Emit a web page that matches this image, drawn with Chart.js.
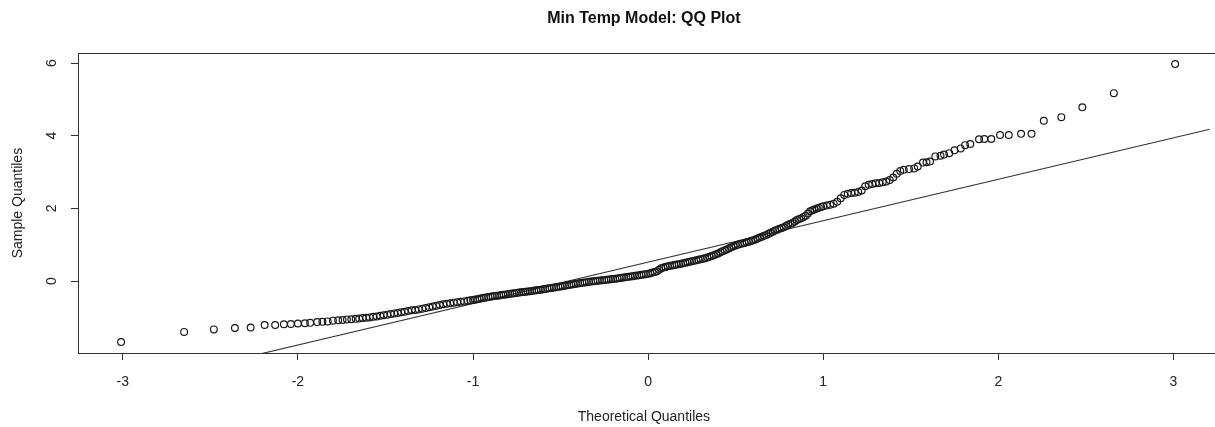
<!DOCTYPE html>
<html>
<head>
<meta charset="utf-8">
<script src="https://cdn.jsdelivr.net/npm/chart.js@4"></script>
<style>
  body { margin: 0; background: #fff; }
  #wrap { width: 1215px; height: 427px; }
</style>
</head>
<body>
<div id="wrap"><canvas id="qqChart"></canvas></div>
<script>
// theoretical quantiles (x) and sample quantiles (y)
const theoretical = [
  // lower tail
  -3.01, -2.65, -2.48, -2.36, -2.27, -2.19, -2.13, -2.08, -2.04, -2.00,
  -1.96, -1.93, -1.89, -1.86, -1.83, -1.80, -1.77, -1.745, -1.72, -1.695,
  -1.67,
  -1.65, -1.63, -1.61, -1.59, -1.57, -1.55, -1.53, -1.51, -1.49, -1.47,
  -1.45, -1.43, -1.41, -1.39, -1.37, -1.35, -1.33, -1.31, -1.29, -1.27,
  -1.25, -1.23, -1.21, -1.19, -1.17, -1.15, -1.13, -1.11, -1.09, -1.07,
  -1.05, -1.03, -1.015,
  // centre
  -1.000, -0.988, -0.975, -0.963, -0.950, -0.938, -0.925, -0.913,
  -0.900, -0.888, -0.875, -0.863, -0.850, -0.838, -0.825, -0.813,
  -0.800, -0.788, -0.775, -0.763, -0.750, -0.738, -0.725, -0.713,
  -0.700, -0.688, -0.675, -0.663, -0.650, -0.638, -0.625, -0.613,
  -0.600, -0.588, -0.575, -0.563, -0.550, -0.538, -0.525, -0.513,
  -0.500, -0.488, -0.475, -0.463, -0.450, -0.438, -0.425, -0.413,
  -0.400, -0.388, -0.375, -0.363, -0.350, -0.338, -0.325, -0.313,
  -0.300, -0.288, -0.275, -0.263, -0.250, -0.238, -0.225, -0.213,
  -0.200, -0.188, -0.175, -0.163, -0.150, -0.138, -0.125, -0.113,
  -0.100, -0.088, -0.075, -0.063, -0.050, -0.038, -0.025, -0.013,
  0.000, 0.013, 0.025, 0.038, 0.050, 0.063, 0.075, 0.088,
  0.100, 0.113, 0.125, 0.138, 0.150, 0.163, 0.175, 0.188,
  0.200, 0.213, 0.225, 0.238, 0.250, 0.263, 0.275, 0.288,
  0.300, 0.313, 0.325, 0.338, 0.350, 0.363, 0.375, 0.388,
  0.400, 0.413, 0.425, 0.438, 0.450, 0.463, 0.475, 0.488,
  0.500, 0.513, 0.525, 0.538, 0.550, 0.563, 0.575, 0.588,
  0.600, 0.613, 0.625, 0.638, 0.650, 0.663, 0.675, 0.688,
  0.700, 0.713, 0.725, 0.738, 0.750, 0.763, 0.775, 0.788,
  0.800, 0.813, 0.825, 0.838, 0.850, 0.863, 0.875, 0.888,
  0.900, 0.913, 0.925, 0.938, 0.950, 0.963, 0.975, 0.988,
  1.000,
  // upper part
  1.02, 1.04, 1.06, 1.08, 1.10, 1.12, 1.14, 1.16, 1.18, 1.20,
  1.22, 1.24, 1.26, 1.28, 1.30, 1.32, 1.34, 1.36, 1.38, 1.40,
  1.42,
  // upper tail
  1.44, 1.46, 1.49, 1.52, 1.54, 1.57, 1.59, 1.61, 1.64, 1.67,
  1.69, 1.72, 1.75, 1.785, 1.81, 1.84, 1.89, 1.92, 1.96, 2.01,
  2.06, 2.13, 2.19, 2.26, 2.36, 2.48, 2.66, 3.01
];
const sample = [
  // lower tail
  -1.68, -1.40, -1.33, -1.29, -1.28, -1.21, -1.21, -1.19, -1.18, -1.17,
  -1.16, -1.15, -1.13, -1.12, -1.11, -1.09, -1.08, -1.07, -1.055, -1.05,
  -1.04,
  -1.03, -1.02, -1.01, -1.00, -0.985, -0.975, -0.955, -0.94, -0.925, -0.905,
  -0.89, -0.88, -0.86, -0.845, -0.825, -0.805, -0.795, -0.78, -0.76, -0.74,
  -0.72, -0.70, -0.68, -0.66, -0.64, -0.625, -0.61, -0.595, -0.585, -0.57,
  -0.56, -0.545, -0.53,
  // centre
  -0.52, -0.51, -0.50, -0.49, -0.475, -0.46, -0.45, -0.44,
  -0.43, -0.42, -0.413, -0.405, -0.395, -0.385, -0.378, -0.37,
  -0.36, -0.35, -0.343, -0.335, -0.327, -0.318, -0.311, -0.303,
  -0.295, -0.287, -0.279, -0.271, -0.263, -0.255, -0.246, -0.237,
  -0.227, -0.218, -0.208, -0.198, -0.188, -0.178, -0.169, -0.16,
  -0.15, -0.14, -0.129, -0.118, -0.108, -0.097, -0.087, -0.076,
  -0.065, -0.055, -0.044, -0.037, -0.03, -0.022, -0.014, -0.007,
  0.0, 0.008, 0.015, 0.022, 0.03, 0.037, 0.044, 0.051,
  0.058, 0.065, 0.073, 0.081, 0.09, 0.099, 0.108, 0.116,
  0.125, 0.134, 0.143, 0.151, 0.16, 0.17, 0.18, 0.19,
  0.20, 0.215, 0.235, 0.25, 0.27, 0.31, 0.35, 0.37,
  0.39, 0.405, 0.42, 0.43, 0.44, 0.452, 0.465, 0.477,
  0.49, 0.502, 0.515, 0.53, 0.545, 0.557, 0.57, 0.585,
  0.60, 0.612, 0.625, 0.645, 0.67, 0.69, 0.71, 0.735,
  0.76, 0.79, 0.82, 0.845, 0.87, 0.90, 0.93, 0.955,
  0.98, 1.00, 1.02, 1.035, 1.05, 1.065, 1.08, 1.10,
  1.12, 1.145, 1.17, 1.195, 1.22, 1.245, 1.27, 1.30,
  1.33, 1.36, 1.39, 1.415, 1.44, 1.46, 1.48, 1.515,
  1.55, 1.575, 1.60, 1.64, 1.68, 1.705, 1.73, 1.765,
  1.80, 1.86, 1.92, 1.945, 1.97, 1.995, 2.02, 2.04,
  2.06,
  // upper part
  2.08, 2.10, 2.13, 2.18, 2.28, 2.37, 2.40, 2.42, 2.43, 2.45,
  2.49, 2.61, 2.65, 2.67, 2.69, 2.70, 2.72, 2.74, 2.78, 2.85,
  2.95,
  // upper tail
  3.03, 3.06, 3.08, 3.10, 3.15, 3.26, 3.27, 3.29, 3.43, 3.45,
  3.48, 3.52, 3.60, 3.65, 3.74, 3.77, 3.90, 3.91, 3.91, 4.02,
  4.02, 4.05, 4.05, 4.41, 4.51, 4.78, 5.17, 5.97
];

const xTicks = [-3, -2, -1, 0, 1, 2, 3];
const yTicks = [0, 2, 4, 6];

// qqline: intercept and slope
const lineIntercept = 0.52;
const lineSlope = 1.14;

const xMin = -3.256, xMax = 3.208;
const yMin = -1.98, yMax = 6.27;

const points = theoretical.map((x, i) => ({ x: x, y: sample[i] }));
const qqLine = [xMin, xMax].map(x => ({ x: x, y: lineIntercept + lineSlope * x }));

Chart.defaults.font.family = '"Liberation Sans", Arial, sans-serif';
Chart.defaults.color = '#222';

// R style box around the plot region
const boxPlugin = {
    id: 'box',
    afterDraw(chart) {
        const a = chart.chartArea;
        const ctx = chart.ctx;
        ctx.save();
        ctx.strokeStyle = '#333';
        ctx.lineWidth = 1;
        ctx.strokeRect(Math.round(a.left) + 0.5, Math.round(a.top) + 0.5, a.right - a.left + 10, Math.round(a.bottom - a.top));
        ctx.restore();
    }
};

const ctx = document.getElementById('qqChart').getContext('2d');
new Chart(ctx, {
    type: 'scatter',
    data: {
        datasets: [
            {
                label: 'Sample',
                data: points,
                pointStyle: 'circle',
                pointRadius: 3.4,
                pointBorderWidth: 1.2,
                borderColor: '#1a1a1a',
                backgroundColor: 'rgba(0,0,0,0)'
            },
            {
                type: 'line',
                label: 'qqline',
                data: qqLine,
                borderColor: '#333',
                borderWidth: 1.1,
                pointRadius: 0,
                fill: false
            }
        ]
    },
    options: {
        responsive: true,
        maintainAspectRatio: false,
        animation: false,
        layout: { padding: 0 },
        plugins: {
            legend: { display: false },
            tooltip: { enabled: false },
            title: {
                display: true,
                text: 'Min Temp Model: QQ Plot',
                fullSize: false,
                color: '#111',
                font: { size: 16, weight: 'bold' },
                padding: { top: 9, bottom: 25 }
            }
        },
        scales: {
            x: {
                type: 'linear',
                min: xMin,
                max: xMax,
                afterBuildTicks: s => { s.ticks = xTicks.map(v => ({ value: v })); },
                afterFit: s => { s.height = 74; },
                border: { display: false },
                grid: { drawOnChartArea: false, drawTicks: true, tickLength: 7, color: '#333' },
                ticks: { font: { size: 14 }, padding: 14, maxRotation: 0 },
                title: { display: true, text: 'Theoretical Quantiles', font: { size: 14 }, padding: { top: 1, bottom: 1 } }
            },
            y: {
                type: 'linear',
                min: yMin,
                max: yMax,
                afterBuildTicks: s => { s.ticks = yTicks.map(v => ({ value: v })); },
                afterFit: s => { s.width = 78; },
                border: { display: false },
                grid: { drawOnChartArea: false, drawTicks: true, tickLength: 7, color: '#333' },
                ticks: { font: { size: 14 }, padding: 15, minRotation: 90, maxRotation: 90, crossAlign: 'center' },
                title: { display: true, text: 'Sample Quantiles', font: { size: 14 }, padding: { top: 10, bottom: 3 } }
            }
        }
    },
    plugins: [boxPlugin]
});
</script>
</body>
</html>
